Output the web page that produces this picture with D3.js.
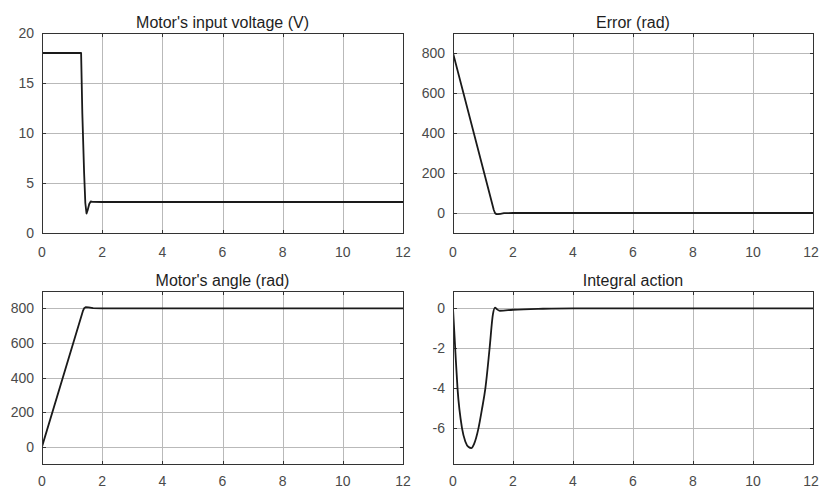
<!DOCTYPE html>
<html>
<head>
<meta charset="utf-8">
<script src="https://cdn.jsdelivr.net/npm/d3@7"></script>
<style>
  html, body { margin: 0; padding: 0; background: #fff; }
  svg { display: block; }
  text { font-family: "Liberation Sans", Arial, Helvetica, sans-serif; }
</style>
</head>
<body>
<svg id="chart" width="819" height="488"></svg>
<script>
// ---- data ----
const xTicks = [0, 2, 4, 6, 8, 10, 12];

const voltageT = [0, 1.30, 1.34, 1.40, 1.44, 1.48, 1.52, 1.57, 1.62, 1.68, 2.0, 12];
const voltageV = [18, 18, 12, 6, 3, 1.95, 2.3, 2.9, 3.15, 3.12, 3.1, 3.1];
const voltageYTicks = [0, 5, 10, 15, 20];

const errorT = [0, 1.36, 1.40, 1.44, 1.50, 1.58, 1.7, 2.0, 12];
const errorV = [800, 15, 0, -5, -6, -4, -1, 0, 0];
const errorYTicks = [0, 200, 400, 600, 800];

const angleT = [0, 1.36, 1.40, 1.45, 1.55, 1.7, 2.0, 12];
const angleV = [0, 785, 800, 806, 805, 801, 800, 800];
const angleYTicks = [0, 200, 400, 600, 800];

const integralT = [0, 0.04, 0.08, 0.15, 0.30, 0.41, 0.52, 0.61, 0.70, 0.85, 0.96, 1.08, 1.22, 1.33, 1.40, 1.47, 1.56, 2.0, 3.0, 4.0, 12];
const integralV = [0, -1.1, -2.2, -4.0, -6.0, -6.67, -6.95, -7.0, -6.8, -6.0, -5.1, -4.0, -2.0, -0.3, 0.04, -0.05, -0.12, -0.07, -0.02, 0, 0];
const integralYTicks = [-6, -4, -2, 0];

const titles = ["Motor's input voltage (V)", "Error (rad)", "Motor's angle (rad)", "Integral action"];

// ---- panels ----
const panels = [
  { title: titles[0], t: voltageT, v: voltageV, yDomain: [0, 20], yTicks: voltageYTicks,
    box: { l: 42, r: 403, t: 33, b: 233 }, curve: d3.curveLinear, lab: 24 },
  { title: titles[1], t: errorT, v: errorV, yDomain: [-100, 900], yTicks: errorYTicks,
    box: { l: 453, r: 813, t: 33, b: 233 }, curve: d3.curveLinear, lab: 24 },
  { title: titles[2], t: angleT, v: angleV, yDomain: [-100, 900], yTicks: angleYTicks,
    box: { l: 42, r: 403, t: 291, b: 464 }, curve: d3.curveLinear, lab: 22 },
  { title: titles[3], t: integralT, v: integralV, yDomain: [-7.8, 0.87], yTicks: integralYTicks,
    box: { l: 453, r: 813, t: 291, b: 464 }, curve: d3.curveMonotoneX, lab: 22 }
];

const svg = d3.select("#chart");
svg.append("rect").attr("width", 819).attr("height", 488).attr("fill", "#fff");

panels.forEach(p => {
  const x = d3.scaleLinear().domain([0, 12]).range([p.box.l, p.box.r]);
  const y = d3.scaleLinear().domain(p.yDomain).range([p.box.b, p.box.t]);
  const g = svg.append("g");
  const gridCol = "#b9b9b9";

  // grid
  g.append("g").selectAll("line").data(xTicks.slice(1, -1)).join("line")
    .attr("x1", d => Math.round(x(d)) + 0.5).attr("x2", d => Math.round(x(d)) + 0.5)
    .attr("y1", p.box.t).attr("y2", p.box.b)
    .attr("stroke", gridCol).attr("stroke-width", 1);
  g.append("g").selectAll("line").data(p.yTicks).join("line")
    .attr("x1", p.box.l).attr("x2", p.box.r)
    .attr("y1", d => Math.round(y(d)) + 0.5).attr("y2", d => Math.round(y(d)) + 0.5)
    .attr("stroke", gridCol).attr("stroke-width", 1);

  // inward ticks (MATLAB style)
  const tl = 3.5;
  g.append("g").selectAll("line").data(xTicks).join("line")
    .attr("x1", d => Math.round(x(d)) + 0.5).attr("x2", d => Math.round(x(d)) + 0.5)
    .attr("y1", p.box.b + 0.5).attr("y2", p.box.b + 0.5 - tl)
    .attr("stroke", "#333").attr("stroke-width", 1);
  g.append("g").selectAll("line").data(xTicks).join("line")
    .attr("x1", d => Math.round(x(d)) + 0.5).attr("x2", d => Math.round(x(d)) + 0.5)
    .attr("y1", p.box.t + 0.5).attr("y2", p.box.t + 0.5 + tl)
    .attr("stroke", "#333").attr("stroke-width", 1);
  g.append("g").selectAll("line").data(p.yTicks).join("line")
    .attr("x1", p.box.l + 0.5).attr("x2", p.box.l + 0.5 + tl)
    .attr("y1", d => Math.round(y(d)) + 0.5).attr("y2", d => Math.round(y(d)) + 0.5)
    .attr("stroke", "#333").attr("stroke-width", 1);
  g.append("g").selectAll("line").data(p.yTicks).join("line")
    .attr("x1", p.box.r + 0.5).attr("x2", p.box.r + 0.5 - tl)
    .attr("y1", d => Math.round(y(d)) + 0.5).attr("y2", d => Math.round(y(d)) + 0.5)
    .attr("stroke", "#333").attr("stroke-width", 1);

  // data line
  const pts = p.t.map((t, i) => [t, p.v[i]]);
  const line = d3.line().x(d => x(d[0])).y(d => y(d[1])).curve(p.curve);
  const clipId = "clip" + p.box.l + "_" + p.box.t;
  svg.append("clipPath").attr("id", clipId).append("rect")
    .attr("x", p.box.l).attr("y", p.box.t)
    .attr("width", p.box.r - p.box.l).attr("height", p.box.b - p.box.t);
  g.append("path").datum(pts).attr("d", line)
    .attr("clip-path", `url(#${clipId})`)
    .attr("fill", "none").attr("stroke", "#1a1a1a").attr("stroke-width", 1.8)
    .attr("stroke-linejoin", "round");

  // box
  g.append("rect")
    .attr("x", p.box.l + 0.5).attr("y", p.box.t + 0.5)
    .attr("width", p.box.r - p.box.l).attr("height", p.box.b - p.box.t)
    .attr("fill", "none").attr("stroke", "#333").attr("stroke-width", 1);

  // tick labels
  g.append("g").selectAll("text").data(xTicks).join("text")
    .attr("x", d => Math.min(x(d), 811)).attr("y", p.box.b + p.lab)
    .attr("text-anchor", "middle").attr("font-size", 14).attr("fill", "#4a4a4a")
    .text(d => d);
  g.append("g").selectAll("text").data(p.yTicks).join("text")
    .attr("x", p.box.l - 8).attr("y", d => y(d)).attr("dy", "0.36em")
    .attr("text-anchor", "end").attr("font-size", 14).attr("fill", "#4a4a4a")
    .text(d => d);

  // title
  g.append("text")
    .attr("x", (p.box.l + p.box.r) / 2).attr("y", p.box.t - 5)
    .attr("text-anchor", "middle").attr("font-size", 16).attr("fill", "#1e1e1e")
    .text(p.title);
});
</script>
</body>
</html>
